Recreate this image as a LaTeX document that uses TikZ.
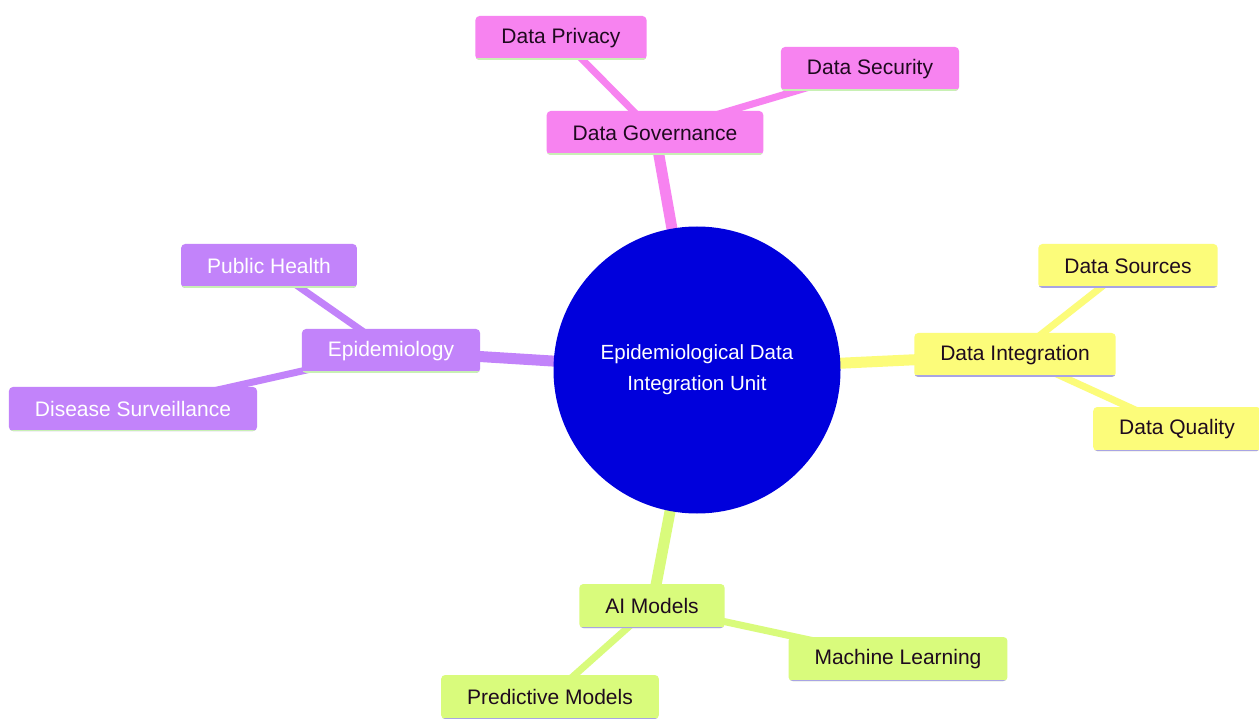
\documentclass[tikz,border=0pt]{standalone}
\usepackage{fontspec}
\setmainfont{Liberation Sans}
\usetikzlibrary{backgrounds}
\definecolor{cpink}{HTML}{F783F0}
\definecolor{cyel}{HTML}{FCFC7A}
\definecolor{cpur}{HTML}{C283FA}
\definecolor{cgrn}{HTML}{D9FB7C}
\definecolor{cblue}{HTML}{0000DC}
\definecolor{linegreen}{HTML}{C8F0B4}
\definecolor{linelav}{HTML}{A8A4E4}
\definecolor{darktext}{HTML}{1E0A1E}
\tikzset{
  mmbox/.style={rectangle, rounded corners=4pt, minimum height=44pt, inner xsep=26pt,
    font=\fontsize{21}{25}\selectfont},
  pinkbox/.style={mmbox, fill=cpink, text=darktext,
    path picture={\draw[line width=3pt, linegreen] (path picture bounding box.south west) -- (path picture bounding box.south east);}},
  yelbox/.style={mmbox, fill=cyel, text=darktext,
    path picture={\draw[line width=3pt, linelav] (path picture bounding box.south west) -- (path picture bounding box.south east);}},
  purbox/.style={mmbox, fill=cpur, text=white,
    path picture={\draw[line width=3pt, linegreen] (path picture bounding box.south west) -- (path picture bounding box.south east);}},
  grnbox/.style={mmbox, fill=cgrn, text=darktext,
    path picture={\draw[line width=3pt, linelav] (path picture bounding box.south west) -- (path picture bounding box.south east);}},
  rootedge/.style={line width=11pt},
  childedge/.style={line width=7pt},
}
\begin{document}
\begin{tikzpicture}[x=1pt,y=-1pt]
\useasboundingbox (0,0) rectangle (1259,719);
\node[circle, fill=cblue, minimum size=287pt, text=white, align=center,
  font=\fontsize{20.5}{31}\selectfont] (root) at (697,370) {Epidemiological Data\\Integration Unit};

\node[pinkbox] (gov) at (655,133) {Data Governance};
\node[pinkbox] (priv) at (561,38) {Data Privacy};
\node[pinkbox] (sec) at (870,69) {Data Security};

\node[yelbox] (integ) at (1015,355) {Data Integration};
\node[yelbox] (src) at (1128,266) {Data Sources};
\node[yelbox] (qual) at (1177,429) {Data Quality};

\node[purbox] (epi) at (391,351) {Epidemiology};
\node[purbox] (ph) at (269,266) {Public Health};
\node[purbox] (ds) at (133,409) {Disease Surveillance};

\node[grnbox] (ai) at (652,606) {AI Models};
\node[grnbox] (ml) at (898,659) {Machine Learning};
\node[grnbox] (pm) at (550,697) {Predictive Models};

\begin{scope}[on background layer]
\fill[white] (0,0) rectangle (1259,719);
\draw[rootedge, cpink] (root.center) -- (gov.center);
\draw[childedge, cpink] (gov.center) -- (priv.center);
\draw[childedge, cpink] (gov.center) -- (sec.center);
\draw[rootedge, cyel] (root.center) -- (integ.center);
\draw[childedge, cyel] (integ.center) -- (src.center);
\draw[childedge, cyel] (integ.center) -- (qual.center);
\draw[rootedge, cpur] (root.center) -- (epi.center);
\draw[childedge, cpur] (epi.center) -- (ph.center);
\draw[childedge, cpur] (epi.center) -- (ds.center);
\draw[rootedge, cgrn] (root.center) -- (ai.center);
\draw[childedge, cgrn] (ai.center) -- (ml.center);
\draw[childedge, cgrn] (ai.center) -- (pm.center);
\end{scope}
\end{tikzpicture}
\end{document}
